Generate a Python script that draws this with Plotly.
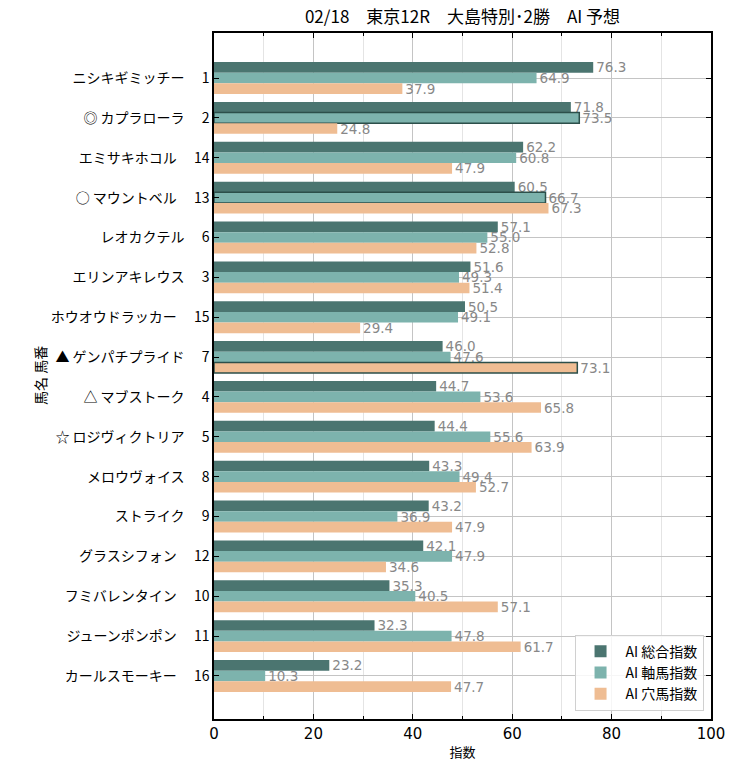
import plotly.graph_objects as go

title = "02/18　東京12R　大島特別･2勝　AI 予想"
names = ["ニシキギミッチー", "◎ カプラローラ", "エミサキホコル", "○ マウントベル", "レオカクテル",
         "エリンアキレウス", "ホウオウドラッカー", "▲ ゲンパチプライド", "△ マブストーク", "☆ ロジヴィクトリア",
         "メロウヴォイス", "ストライク", "グラスシフォン", "フミバレンタイン", "ジューンポンポン", "カールスモーキー"]
numbers = [1, 2, 14, 13, 6, 3, 15, 7, 4, 5, 8, 9, 12, 10, 11, 16]
sogo = [76.3, 71.8, 62.2, 60.5, 57.1, 51.6, 50.5, 46.0, 44.7, 44.4, 43.3, 43.2, 42.1, 35.3, 32.3, 23.2]
jiku = [64.9, 73.5, 60.8, 66.7, 55.0, 49.3, 49.1, 47.6, 53.6, 55.6, 49.4, 36.9, 47.9, 40.5, 47.8, 10.3]
ana = [37.9, 24.8, 47.9, 67.3, 52.8, 51.4, 29.4, 73.1, 65.8, 63.9, 52.7, 47.9, 34.6, 57.1, 61.7, 47.7]
series_names = ["AI 総合指数", "AI 軸馬指数", "AI 穴馬指数"]
y_title = "馬名 馬番"
x_title = "指数"
# highlighted (outlined) bars: (series index, horse row index)
highlights = [(1, 1), (1, 3), (2, 7)]

colors = ["#4b7570", "#7db3ad", "#efbd93"]
FONT = "Noto Sans CJK JP"

labels = [f"{n}　 {k}" for n, k in zip(names, numbers)]
ypos = list(range(len(names)))

fig = go.Figure()
for si, (vals, nm, col) in enumerate(zip([sogo, jiku, ana], series_names, colors)):
    lw = [1.5 if (si, i) in highlights else 0 for i in range(len(vals))]
    fig.add_trace(go.Bar(
        y=ypos, x=vals, orientation="h", name=nm,
        marker=dict(color=col, line=dict(color="#2c4f4a", width=lw)),
        text=[f"{v:.1f}" for v in vals], textposition="outside",
        textfont=dict(color="#888888", size=13.5, family="DejaVu Sans"),
        constraintext="none", cliponaxis=False,
    ))

fig.update_layout(
    width=734, height=770,
    margin=dict(l=214, r=23, t=33, b=51),
    plot_bgcolor="white", paper_bgcolor="white",
    barmode="group", bargap=0.2, bargroupgap=0,
    font=dict(family=FONT, color="black", size=14),
    title=dict(text=title, x=(214 + 711) / 2 / 734, xanchor="center", y=0.978, yanchor="middle",
               font=dict(size=17, family=FONT)),
    legend=dict(x=0.985, y=0.012, xanchor="right", yanchor="bottom",
                bordercolor="#d0d0d0", borderwidth=1, bgcolor="rgba(255,255,255,0.85)",
                font=dict(size=14, family=FONT), traceorder="normal", itemwidth=40),
    showlegend=True,
    annotations=[dict(text=y_title, textangle=-90, xref="paper", yref="paper",
                      x=(40 - 214) / 497, y=0.5, xanchor="center", yanchor="middle",
                      showarrow=False, font=dict(size=14, family=FONT))],
)
fig.update_xaxes(
    range=[0, 100], dtick=20, tick0=0, automargin=False,
    showline=True, linecolor="black", linewidth=1.5, mirror="ticks",
    ticks="inside", ticklen=5, tickcolor="black",
    showgrid=True, gridcolor="#c4c4c4", gridwidth=1,
    minor=dict(dtick=10, ticks="inside", ticklen=3, tickcolor="black", showgrid=True, gridcolor="#e4e4e4"),
    zeroline=False, layer="above traces",
    title=dict(text=x_title, font=dict(size=13), standoff=6),
    tickfont=dict(size=15, family="DejaVu Sans"),
)
fig.update_yaxes(
    range=[len(names) - 1 + 1.08, -1.13], automargin=False,
    tickvals=ypos, ticktext=labels,
    showline=True, linecolor="black", linewidth=1.5, mirror="ticks",
    ticks="inside", ticklen=5, tickcolor="black",
    showgrid=True, gridcolor="#c4c4c4", gridwidth=1,
    zeroline=False, layer="above traces",
    tickfont=dict(size=14, family=FONT),
)

fig.write_html("out.html", post_script="document.body.style.margin='0';",
               config={"displayModeBar": False})
